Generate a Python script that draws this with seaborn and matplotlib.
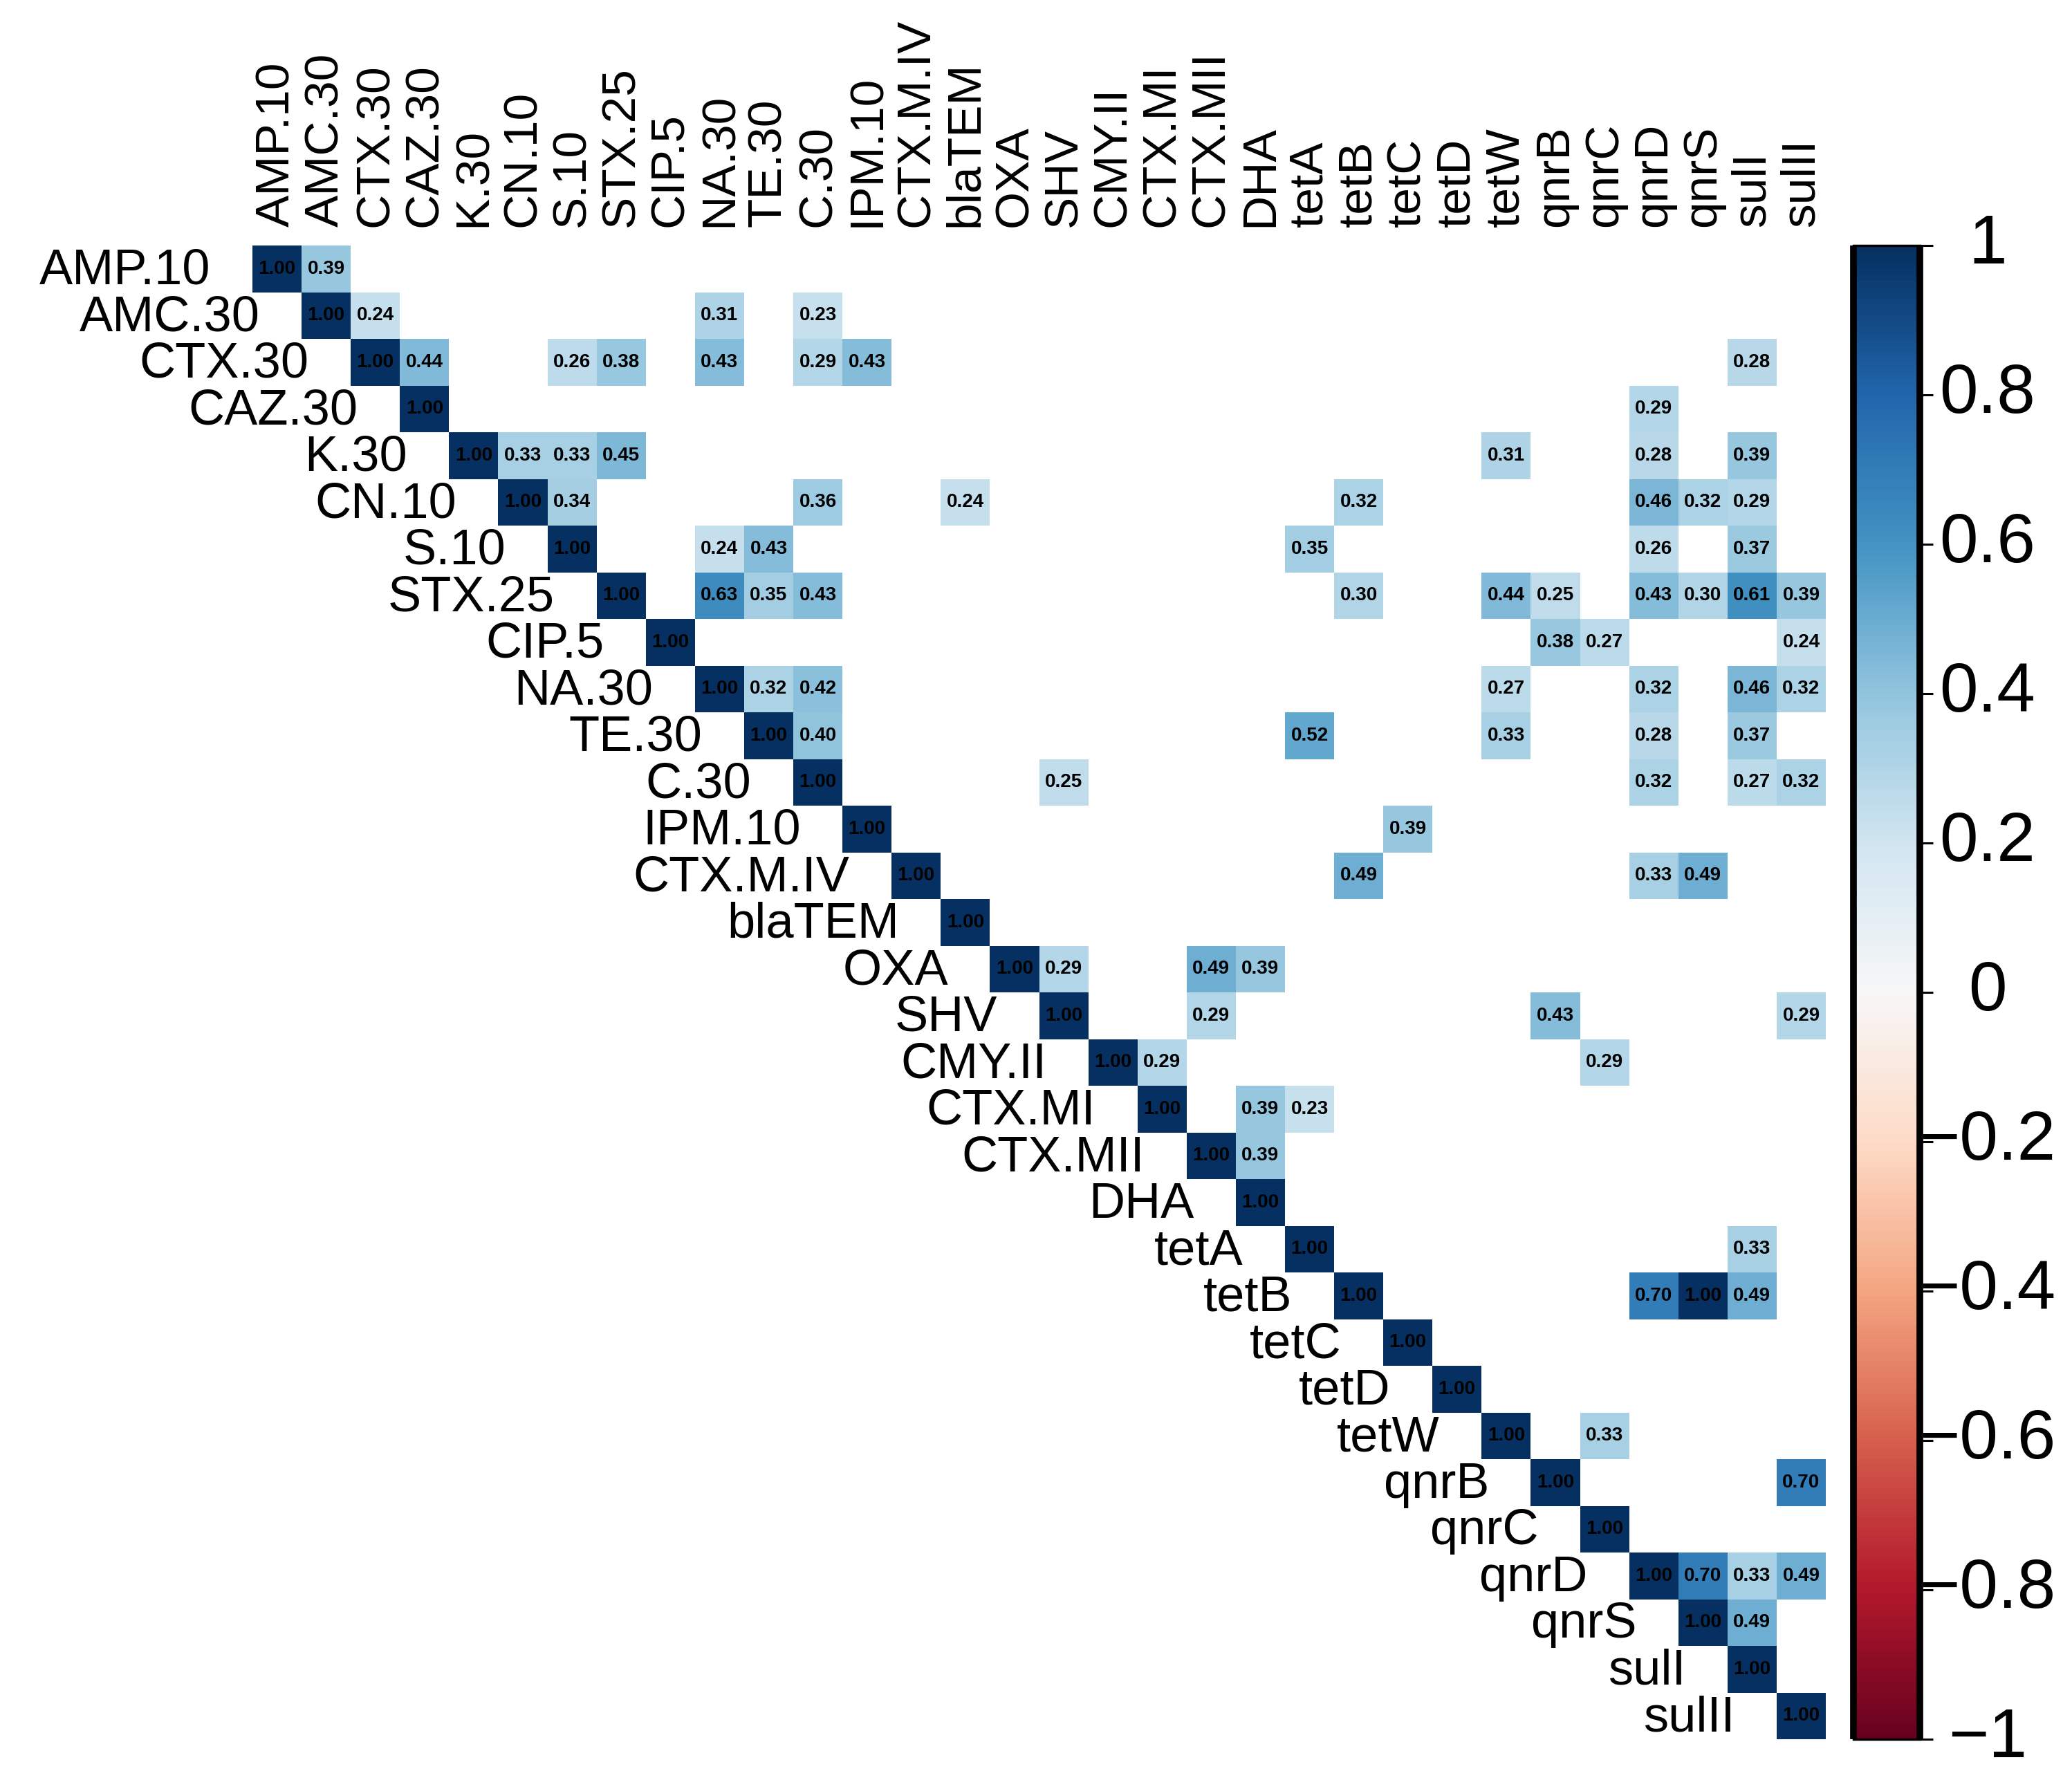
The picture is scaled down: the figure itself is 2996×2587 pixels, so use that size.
import numpy as np
import pandas as pd
import seaborn as sns
import matplotlib.pyplot as plt

labels = ['AMP.10', 'AMC.30', 'CTX.30', 'CAZ.30', 'K.30', 'CN.10', 'S.10', 'STX.25',
          'CIP.5', 'NA.30', 'TE.30', 'C.30', 'IPM.10', 'CTX.M.IV', 'blaTEM', 'OXA',
          'SHV', 'CMY.II', 'CTX.MI', 'CTX.MII', 'DHA', 'tetA', 'tetB', 'tetC',
          'tetD', 'tetW', 'qnrB', 'qnrC', 'qnrD', 'qnrS', 'sulI', 'sulII']

# significant off-diagonal correlations (upper triangle only)
pair_rows = ['AMP.10',
             'AMC.30', 'AMC.30', 'AMC.30',
             'CTX.30', 'CTX.30', 'CTX.30', 'CTX.30', 'CTX.30', 'CTX.30', 'CTX.30',
             'CAZ.30',
             'K.30', 'K.30', 'K.30', 'K.30', 'K.30', 'K.30',
             'CN.10', 'CN.10', 'CN.10', 'CN.10', 'CN.10', 'CN.10', 'CN.10',
             'S.10', 'S.10', 'S.10', 'S.10', 'S.10',
             'STX.25', 'STX.25', 'STX.25', 'STX.25', 'STX.25',
             'STX.25', 'STX.25', 'STX.25', 'STX.25', 'STX.25',
             'CIP.5', 'CIP.5', 'CIP.5',
             'NA.30', 'NA.30', 'NA.30', 'NA.30', 'NA.30', 'NA.30',
             'TE.30', 'TE.30', 'TE.30', 'TE.30', 'TE.30',
             'C.30', 'C.30', 'C.30', 'C.30',
             'IPM.10',
             'CTX.M.IV', 'CTX.M.IV', 'CTX.M.IV',
             'OXA', 'OXA', 'OXA',
             'SHV', 'SHV', 'SHV',
             'CMY.II', 'CMY.II',
             'CTX.MI', 'CTX.MI',
             'CTX.MII',
             'tetA',
             'tetB', 'tetB', 'tetB',
             'tetW',
             'qnrB',
             'qnrD', 'qnrD', 'qnrD',
             'qnrS']
pair_cols = ['AMC.30',
             'CTX.30', 'NA.30', 'C.30',
             'CAZ.30', 'S.10', 'STX.25', 'NA.30', 'C.30', 'IPM.10', 'sulI',
             'qnrD',
             'CN.10', 'S.10', 'STX.25', 'tetW', 'qnrD', 'sulI',
             'S.10', 'C.30', 'blaTEM', 'tetB', 'qnrD', 'qnrS', 'sulI',
             'NA.30', 'TE.30', 'tetA', 'qnrD', 'sulI',
             'NA.30', 'TE.30', 'C.30', 'tetB', 'tetW',
             'qnrB', 'qnrD', 'qnrS', 'sulI', 'sulII',
             'qnrB', 'qnrC', 'sulII',
             'TE.30', 'C.30', 'tetW', 'qnrD', 'sulI', 'sulII',
             'C.30', 'tetA', 'tetW', 'qnrD', 'sulI',
             'SHV', 'qnrD', 'sulI', 'sulII',
             'tetC',
             'tetB', 'qnrD', 'qnrS',
             'SHV', 'CTX.MII', 'DHA',
             'CTX.MII', 'qnrB', 'sulII',
             'CTX.MI', 'qnrC',
             'DHA', 'tetA',
             'DHA',
             'sulI',
             'qnrD', 'qnrS', 'sulI',
             'qnrC',
             'sulII',
             'qnrS', 'sulI', 'sulII',
             'sulI']
pair_vals = [0.39,
             0.24, 0.31, 0.23,
             0.44, 0.26, 0.38, 0.43, 0.29, 0.43, 0.28,
             0.29,
             0.33, 0.33, 0.45, 0.31, 0.28, 0.39,
             0.34, 0.36, 0.24, 0.32, 0.46, 0.32, 0.29,
             0.24, 0.43, 0.35, 0.26, 0.37,
             0.63, 0.35, 0.43, 0.30, 0.44,
             0.25, 0.43, 0.30, 0.61, 0.39,
             0.38, 0.27, 0.24,
             0.32, 0.42, 0.27, 0.32, 0.46, 0.32,
             0.40, 0.52, 0.33, 0.28, 0.37,
             0.25, 0.32, 0.27, 0.32,
             0.39,
             0.49, 0.33, 0.49,
             0.29, 0.49, 0.39,
             0.29, 0.43, 0.29,
             0.29, 0.29,
             0.39, 0.23,
             0.39,
             0.33,
             0.70, 1.00, 0.49,
             0.33,
             0.70,
             0.70, 0.33, 0.49,
             0.49]

cbar_ticks = [-1, -0.8, -0.6, -0.4, -0.2, 0, 0.2, 0.4, 0.6, 0.8, 1]
cbar_tick_labels = ['\u22121', '\u22120.8', '\u22120.6', '\u22120.4', '\u22120.2', '0',
                    '0.2', '0.4', '0.6', '0.8', '1']


def main():
    plt.rcParams['font.family'] = ['Liberation Sans', 'DejaVu Sans']
    assert len(pair_rows) == len(pair_cols) == len(pair_vals)

    corr = pd.DataFrame(np.nan, index=labels, columns=labels)
    for lab in labels:
        corr.loc[lab, lab] = 1.0
    for r, c, v in zip(pair_rows, pair_cols, pair_vals):
        corr.loc[r, c] = v
    mask = corr.isna()

    W, H = 2996, 2587
    fig = plt.figure(figsize=(W / 100, H / 100), dpi=100)
    ax = fig.add_axes([365 / W, 1 - 2515 / H, (2640 - 365) / W, (2515 - 355) / H])
    cax = fig.add_axes([2680 / W, 1 - 2515 / H, 96 / W, (2515 - 355) / H])

    sns.heatmap(corr, mask=mask, cmap='RdBu', vmin=-1, vmax=1,
                annot=True, fmt='.2f',
                annot_kws={'fontsize': 20, 'color': 'black', 'fontweight': 'bold'},
                xticklabels=False, yticklabels=False,
                cbar=True, cbar_ax=cax, ax=ax)

    n = len(labels)
    # diagonal row labels
    for i, lab in enumerate(labels):
        ax.text(i - 0.85, i + 0.55, lab, ha='right', va='center',
                fontsize=52, color='black')
    # column labels on top
    for i, lab in enumerate(labels):
        ax.text(i + 0.5, -0.4, lab, ha='center', va='bottom', rotation=90,
                fontsize=50, color='black', clip_on=False)
    ax.set_xlim(0, n)
    ax.set_ylim(n, 0)

    # colour bar styling
    cbar = ax.collections[0].colorbar
    cbar.set_ticks(cbar_ticks)
    cax.set_yticklabels([])
    cax.tick_params(axis='y', length=14, width=2.2, color='black', direction='out')
    cbar.outline.set_linewidth(2.5)
    cbar.outline.set_edgecolor('black')
    for xe in (0.0, 1.0):
        cax.plot([xe, xe], [0, 1], transform=cax.transAxes, color='black',
                 linewidth=7, clip_on=False, solid_capstyle='butt')
    for t, lab in zip(cbar_ticks, cbar_tick_labels):
        cax.text(2.02, t, lab, transform=cax.get_yaxis_transform(), ha='center',
                 va='center', fontsize=72, color='black')

    fig.savefig('out.png', dpi=100)


if __name__ == '__main__':
    main()
